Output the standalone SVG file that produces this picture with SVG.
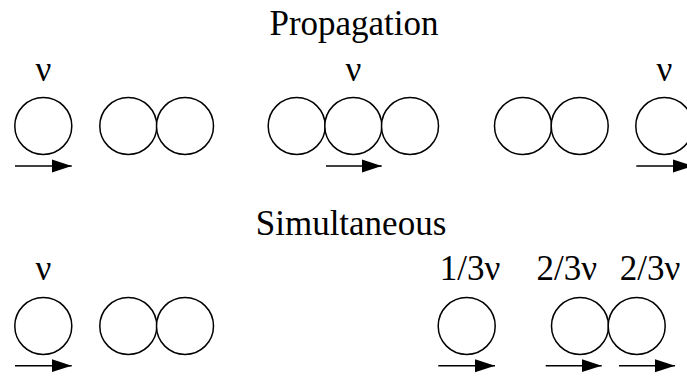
<svg xmlns="http://www.w3.org/2000/svg" width="687" height="376" viewBox="0 0 687 376">
  <style>
    .ball { fill: #fff; stroke: #000; stroke-width: 1.5; }
    .lbl { font-family: "Liberation Serif", "Times New Roman", serif; font-size: 35px; fill: #000; text-anchor: middle; }
    .vel { stroke: #000; stroke-width: 1.5; fill: none; marker-end: url(#head); }
  </style>
  <defs>
    <marker id="head" markerUnits="userSpaceOnUse" markerWidth="22" markerHeight="16" refX="20" refY="7" orient="auto">
      <polygon points="0,0.5 20,7 0,13.5" fill="#000"/>
    </marker>
  </defs>
  <rect width="687" height="376" fill="#fff"/>

  <!-- section titles -->
  <text class="lbl" x="354" y="35">Propagation</text>
  <text class="lbl" x="351" y="235">Simultaneous</text>

  <!-- propagation row -->
  <g id="p-ball-1"><circle class="ball" cx="43.3" cy="126" r="28.5"/><text class="lbl" x="43.3" y="81">ν</text></g>
  <g id="p-ball-2"><circle class="ball" cx="128.3" cy="126" r="28.5"/></g>
  <g id="p-ball-3"><circle class="ball" cx="185" cy="126" r="28.5"/></g>
  <g id="p-ball-4"><circle class="ball" cx="296.7" cy="126" r="28.5"/></g>
  <g id="p-ball-5"><circle class="ball" cx="353.3" cy="126" r="28.5"/><text class="lbl" x="353.3" y="81">ν</text></g>
  <g id="p-ball-6"><circle class="ball" cx="410" cy="126" r="28.5"/></g>
  <g id="p-ball-7"><circle class="ball" cx="523" cy="126" r="28.5"/></g>
  <g id="p-ball-8"><circle class="ball" cx="579.7" cy="126" r="28.5"/></g>
  <g id="p-ball-9"><circle class="ball" cx="664.3" cy="126" r="28.5"/><text class="lbl" x="664.3" y="81">ν</text></g>

  <!-- simultaneous row -->
  <g id="s-ball-1"><circle class="ball" cx="43.3" cy="326" r="28.5"/><text class="lbl" x="43.3" y="280">ν</text></g>
  <g id="s-ball-2"><circle class="ball" cx="128.3" cy="326" r="28.5"/></g>
  <g id="s-ball-3"><circle class="ball" cx="185" cy="326" r="28.5"/></g>
  <g id="s-ball-4"><circle class="ball" cx="466.7" cy="326" r="28.5"/><text class="lbl" x="470" y="280">1/3ν</text></g>
  <g id="s-ball-5"><circle class="ball" cx="580" cy="326" r="28.5"/><text class="lbl" x="566.7" y="280">2/3ν</text></g>
  <g id="s-ball-6"><circle class="ball" cx="636.7" cy="326" r="28.5"/><text class="lbl" x="650" y="280">2/3ν</text></g>

  <!-- velocity arrows -->
  <g id="arrows">
    <line class="vel" x1="15" y1="166" x2="71.7" y2="166"/>
    <line class="vel" x1="326" y1="166" x2="381.7" y2="166"/>
    <line class="vel" x1="636.3" y1="166" x2="693" y2="166"/>
    <line class="vel" x1="15" y1="365.7" x2="71.7" y2="365.7"/>
    <line class="vel" x1="438.3" y1="365.7" x2="495" y2="365.7"/>
    <line class="vel" x1="545.7" y1="365.7" x2="601.7" y2="365.7"/>
    <line class="vel" x1="619" y1="365.7" x2="675" y2="365.7"/>
  </g>
</svg>
